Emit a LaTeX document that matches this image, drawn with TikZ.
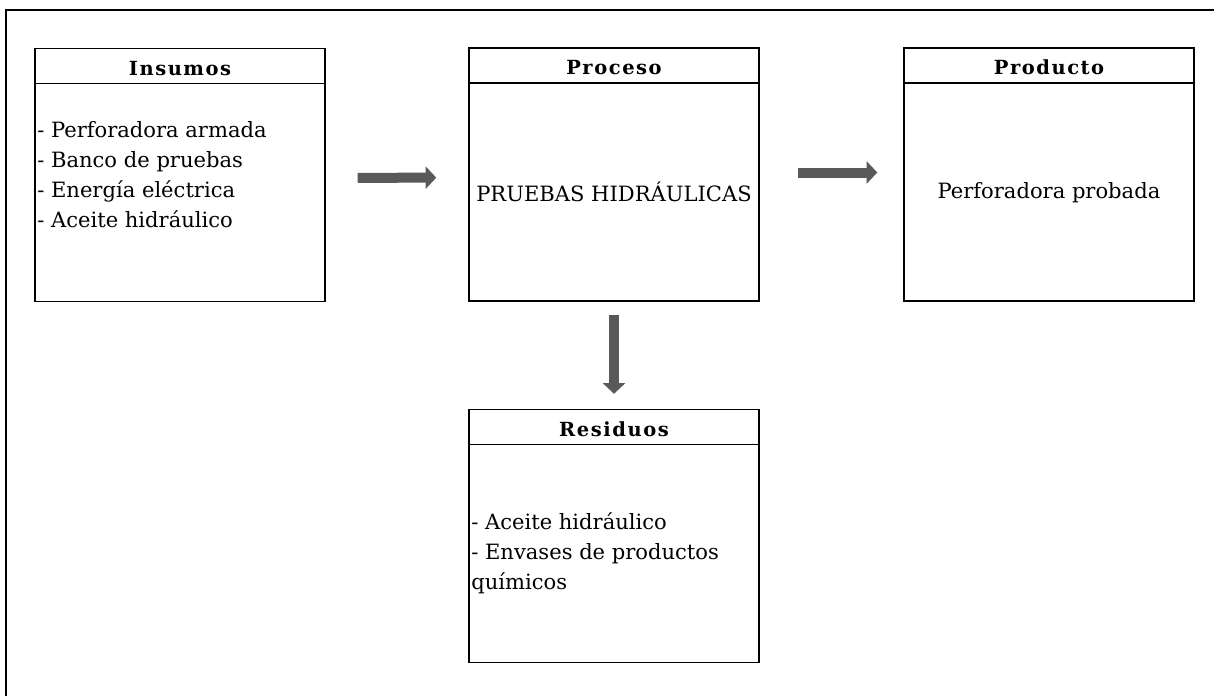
\documentclass[tikz,border=0pt]{standalone}
\usepackage{fontspec}
\setmainfont{DejaVu Serif}
\usetikzlibrary{arrows.meta}
\definecolor{arrowgray}{HTML}{595959}
\newcommand{\bodyfont}{\fontsize{15.8}{22.5}\selectfont}
\newcommand{\headfont}{\fontsize{14.6}{16}\selectfont\bfseries\addfontfeature{LetterSpace=8}}
\tikzset{
  stagebox/.style={draw, line width=1.1pt, minimum width=217.5pt, minimum height=189.75pt, inner sep=0pt},
  stagehead/.style={draw, line width=1.1pt, minimum width=217.5pt, minimum height=26.25pt, inner sep=0pt,
    text height=14pt, text depth=0pt, font=\headfont},
  listtext/.style={align=left, inner xsep=1.5pt, inner ysep=0pt, font=\bodyfont},
  plaintext/.style={inner sep=0pt, font=\bodyfont},
  flow/.style={draw=arrowgray, line width=7.5pt, -{Triangle[width=16.5pt,length=8pt]}}
}
\begin{document}
\begin{tikzpicture}[x=0.75pt,y=-0.75pt]
\useasboundingbox (0,0) rectangle (1214,696);
% outer frame
\draw[line width=1.4pt] (6,696) -- (6,10) -- (1214,10);

% stage boxes
\node[stagebox] (ins)  at (180,175)   {};
\node[stagebox] (pro)  at (614,174.5) {};
\node[stagebox] (prod) at (1049,174.5){};
\node[stagebox] (res)  at (614,536)   {};

% headers
\node[stagehead, anchor=north] (insh)  at (ins.north)  {Insumos};
\node[stagehead, anchor=north] (proh)  at (pro.north)  {Proceso};
\node[stagehead, anchor=north] (prodh) at (prod.north) {Producto};
\node[stagehead, anchor=north] (resh)  at (res.north)  {Residuos};

% contents
\node[listtext, anchor=west] (insl) at (35,175)
  {- Perforadora armada\\- Banco de pruebas\\- Energía eléctrica\\- Aceite hidráulico};
\node[plaintext] (prot) at (614,192) {PRUEBAS HIDRÁULICAS};
\node[plaintext] (prodt) at (1049,193) {Perforadora probada};
\node[listtext, anchor=west] (resl) at (469,553.5)
  {- Aceite hidráulico\\- Envases de productos\\químicos};

% flow arrows
\draw[flow, shorten <=24pt, shorten >=24pt] ([yshift=-2.25pt]ins.east) -- ([yshift=-2.25pt]pro.west);
\draw[flow, shorten <=28.5pt, shorten >=19.5pt] ([yshift=1.5pt]pro.east) -- ([yshift=1.5pt]prod.west);
\draw[flow, shorten <=9.75pt, shorten >=11.25pt] (pro.south) -- (res.north);
\end{tikzpicture}
\end{document}
